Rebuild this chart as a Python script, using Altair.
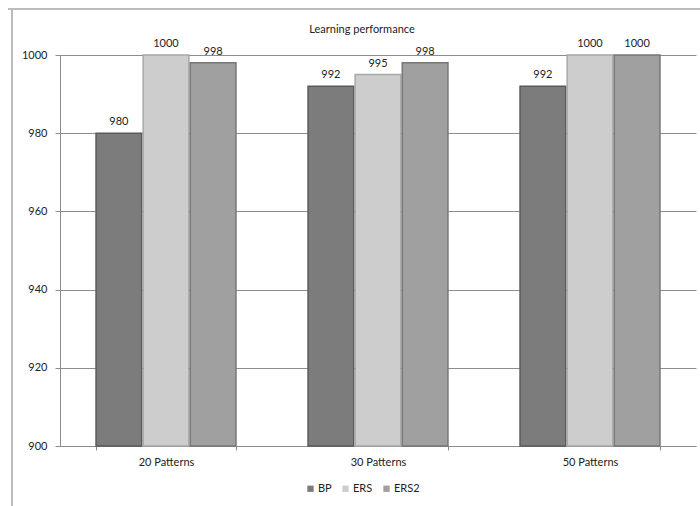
import altair as alt
import pandas as pd

categories = ["20 Patterns", "30 Patterns", "50 Patterns"]
series = ["BP", "ERS", "ERS2"]
bp_values = [980, 992, 992]
ers_values = [1000, 995, 1000]
ers2_values = [998, 998, 1000]
y_ticks = [900, 920, 940, 960, 980, 1000]
colors = ["#7c7c7c", "#cdcdcd", "#a0a0a0"]
strokes = ["#5a5a5a", "#a8a8a8", "#777777"]
title_text = "Learning performance"

rows = []
for s, vals in zip(series, [bp_values, ers_values, ers2_values]):
    for c, v in zip(categories, vals):
        rows.append({"category": c, "series": s, "value": v})
df = pd.DataFrame(rows)

FONT = "Lato"

x = alt.X("category:N", sort=categories, title=None,
          scale=alt.Scale(paddingInner=0.34, paddingOuter=0.17),
          axis=alt.Axis(labelAngle=0, labelFontSize=11, labelColor="#222222",
                        labelFont=FONT, domainColor="#8c8c8c", tickColor="#8c8c8c",
                        tickBand="extent", tickSize=4, labelPadding=6))
xo = alt.XOffset("series:N", sort=series, scale=alt.Scale(paddingInner=0.03))
y = alt.Y("value:Q", title=None,
          scale=alt.Scale(domain=[900, 1000], nice=False, zero=False),
          axis=alt.Axis(values=y_ticks, format="d", labelFontSize=11, labelColor="#222222",
                        labelFont=FONT, domainColor="#8c8c8c", tickColor="#8c8c8c",
                        tickSize=5, labelPadding=8, gridColor="#8c8c8c",
                        gridWidth=1))

bars = alt.Chart(df).mark_bar(strokeWidth=1.5).encode(
    x=x, xOffset=xo, y=y,
    y2=alt.datum(900),
    color=alt.Color("series:N", sort=series,
                    scale=alt.Scale(domain=series, range=colors),
                    legend=alt.Legend(title=None, orient="none", direction="horizontal",
                                      legendX=245, legendY=428, symbolType="square",
                                      symbolSize=40, labelFontSize=11, labelFont=FONT,
                                      labelColor="#222222", columnPadding=8,
                                      symbolStrokeWidth=0, labelOffset=2)),
    stroke=alt.Stroke("series:N", sort=series,
                      scale=alt.Scale(domain=series, range=strokes), legend=None),
)

labels = alt.Chart(df).mark_text(dy=-11, fontSize=11, font=FONT, color="#222222").encode(
    x=alt.X("category:N", sort=categories,
            scale=alt.Scale(paddingInner=0.34, paddingOuter=0.17)),
    xOffset=xo, y=alt.Y("value:Q"), text=alt.Text("value:Q", format="d"))

title = alt.Chart(pd.DataFrame({"t": [title_text]})).mark_text(
    fontSize=11, font=FONT, color="#222222", clip=False).encode(
    x=alt.value(302), y=alt.value(-25), text="t:N")

frame_top = alt.Chart(df).mark_rule(color="#bdbdbd", strokeWidth=1.5, clip=False).encode(
    x=alt.value(-52), x2=alt.value(660), y=alt.value(-46))
frame_left = alt.Chart(df).mark_rule(color="#bdbdbd", strokeWidth=1.5, clip=False).encode(
    x=alt.value(-48), y=alt.value(-46), y2=alt.value(470))

chart = alt.layer(bars, labels, title, frame_top, frame_left).properties(
    width=636, height=391,
    autosize=alt.AutoSizeParams(type="none"),
    padding={"left": 60, "top": 55, "right": 4, "bottom": 60},
).configure_view(stroke=None).configure_axis(grid=True).configure_axisX(grid=False)

chart.save("out.html", embed_options={"renderer": "svg", "actions": False})
